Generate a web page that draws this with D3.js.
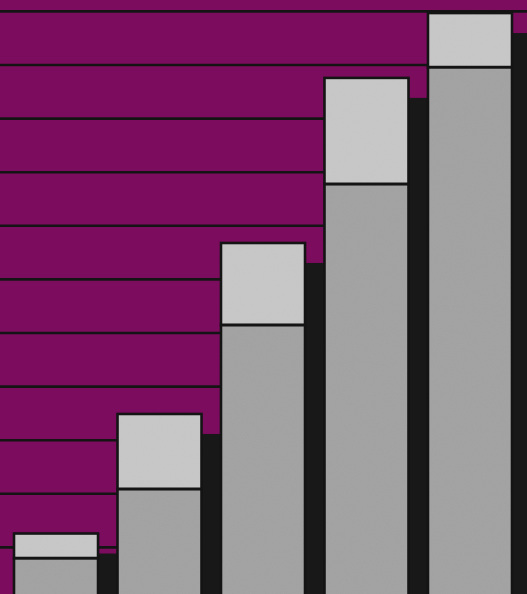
<!DOCTYPE html>
<html><head><meta charset="utf-8">
<script src="https://cdn.jsdelivr.net/npm/d3@7"></script>
<style>html,body{margin:0;padding:0;background:#7c0c5e;overflow:hidden}</style>
</head><body>
<svg id="chart" width="527" height="594"></svg>
<script>
const categories = ["1", "2", "3", "4", "5"];
const lowerValues = [0.79, 2.08, 5.14, 7.77, 9.95];
const upperValues = [0.46, 1.40, 1.53, 1.98, 1.01];
const gridTicks = [1, 2, 3, 4, 5, 6, 7, 8, 9, 10, 11];

const svg = d3.select("#chart");
const W = 527, H = 594;

const x = d3.scaleBand().domain(categories).range([14, 512]).paddingInner(0.188).paddingOuter(0);
const y = d3.scaleLinear().domain([0, 11]).range([600.5, 10.9]);

svg.append("rect").attr("width", W).attr("height", H).attr("fill", "#7c0c5e");

// grain filter
const defs = svg.append("defs");
const f = defs.append("filter").attr("id", "grain").attr("x", 0).attr("y", 0).attr("width", 1).attr("height", 1);
f.append("feTurbulence").attr("type", "fractalNoise").attr("baseFrequency", 0.9).attr("numOctaves", 2).attr("seed", 3).attr("result", "n");
f.append("feColorMatrix").attr("in", "n").attr("type", "matrix")
  .attr("values", "0 0 0 0 0.5  0 0 0 0 0.5  0 0 0 0 0.5  0 0 0 0.18 0").attr("result", "n2");
f.append("feComposite").attr("in", "n2").attr("in2", "SourceGraphic").attr("operator", "in").attr("result", "n3");
f.append("feMerge").selectAll("feMergeNode").data(["SourceGraphic", "n3"]).join("feMergeNode").attr("in", d => d);

// gridlines via axis
const grid = svg.append("g").attr("class", "grid")
  .call(d3.axisLeft(y).tickValues(gridTicks).tickSize(-W).tickFormat(""));
grid.select(".domain").remove();
grid.selectAll(".tick line").attr("stroke", "#141414").attr("stroke-width", 2.6);

const data = categories.map((c, i) => ({c, lo: lowerValues[i], up: upperValues[i], tot: lowerValues[i] + upperValues[i]}));
const off = 20;

const g = svg.append("g");
// shadows
g.selectAll("rect.shadow").data(data).join("rect").attr("class", "shadow")
  .attr("x", d => x(d.c) + off).attr("y", d => y(d.tot) + off)
  .attr("width", x.bandwidth()).attr("height", d => y(0) - y(d.tot))
  .attr("fill", "#181818");

const bars = svg.append("g").attr("filter", "url(#grain)");
bars.selectAll("rect.lower").data(data).join("rect").attr("class", "lower")
  .attr("x", d => x(d.c)).attr("y", d => y(d.lo))
  .attr("width", x.bandwidth()).attr("height", d => y(0) - y(d.lo))
  .attr("fill", "#a0a0a0");
bars.selectAll("rect.upper").data(data).join("rect").attr("class", "upper")
  .attr("x", d => x(d.c)).attr("y", d => y(d.tot))
  .attr("width", x.bandwidth()).attr("height", d => y(d.lo) - y(d.tot))
  .attr("fill", "#c8c8c8");

const outl = svg.append("g").attr("fill", "none").attr("stroke", "#141414").attr("stroke-width", 2.6);
outl.selectAll("rect.olo").data(data).join("rect").attr("class", "olo")
  .attr("x", d => x(d.c)).attr("y", d => y(d.lo))
  .attr("width", x.bandwidth()).attr("height", d => y(0) - y(d.lo));
outl.selectAll("rect.oup").data(data).join("rect").attr("class", "oup")
  .attr("x", d => x(d.c)).attr("y", d => y(d.tot))
  .attr("width", x.bandwidth()).attr("height", d => y(d.lo) - y(d.tot));
</script>
</body></html>
